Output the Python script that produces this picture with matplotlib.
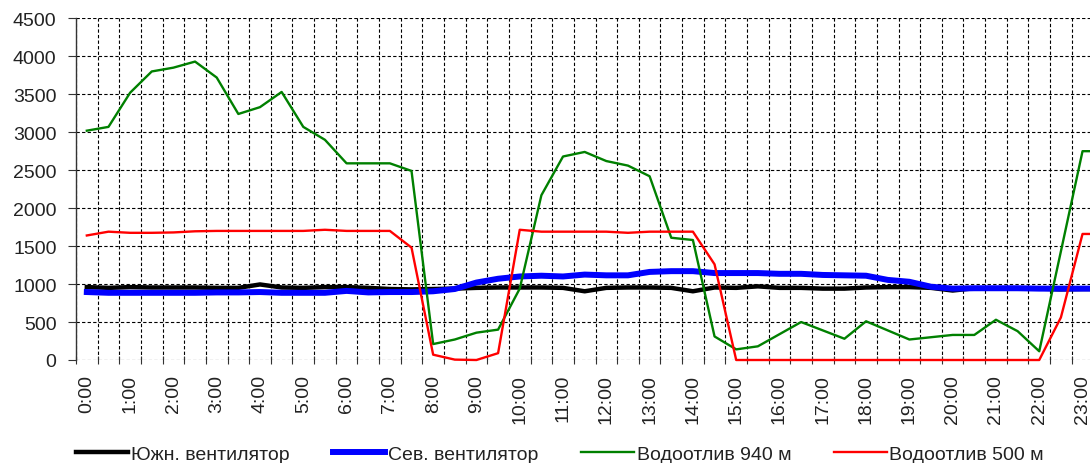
import matplotlib
matplotlib.use("Agg")
from matplotlib import pyplot as plt
from matplotlib.ticker import FixedLocator, MultipleLocator

# half-hour categories, labels shown only on full hours
times = [f"{h}:{m:02d}" for h in range(24) for m in (0, 30)]

south_fan = [960, 950, 960, 955, 955, 955, 950, 950, 995, 955, 950, 960,
             960, 950, 935, 930, 935, 940, 950, 955, 955, 955, 950, 905,
             950, 955, 955, 950, 905, 955, 950, 970, 950, 950, 940, 940,
             955, 960, 960, 950, 915, 945, 945, 945, 940, 930, 935, 935]

north_fan = [895, 885, 885, 885, 885, 885, 890, 890, 895, 885, 885, 885,
             910, 890, 895, 895, 905, 935, 1020, 1070, 1100, 1110, 1100, 1125,
             1115, 1115, 1160, 1170, 1170, 1145, 1145, 1145, 1135, 1135, 1120, 1115,
             1110, 1055, 1030, 965, 940, 945, 945, 945, 940, 940, 940, 940]

pump_940 = [3020, 3070, 3520, 3800, 3850, 3930, 3720, 3240, 3330, 3530, 3070, 2900,
            2590, 2590, 2590, 2490, 210, 270, 360, 400, 940, 2170, 2680, 2740,
            2620, 2560, 2420, 1610, 1580, 310, 140, 180, 340, 500, 390, 280,
            510, 390, 270, 300, 330, 330, 530, 380, 115, 1430, 2750, 2750]

pump_500 = [1640, 1690, 1675, 1675, 1680, 1695, 1700, 1700, 1700, 1700, 1700, 1715,
            1700, 1700, 1700, 1480, 70, 5, 0, 90, 1715, 1690, 1690, 1690,
            1690, 1675, 1690, 1690, 1690, 1260, 0, 0, 0, 0, 0, 0,
            0, 0, 0, 0, 0, 0, 0, 0, 0, 560, 1660, 1660]

series_names = ["Южн. вентилятор", "Сев. вентилятор", "Водоотлив 940 м", "Водоотлив 500 м"]

plt.rcParams['font.family'] = ['Liberation Sans', 'DejaVu Sans']

fig = plt.figure(figsize=(10.9, 4.64), dpi=100)
# plot area runs past the right edge, the original picture is cropped there
ax = fig.add_axes([76 / 1090, 103 / 464, 1039 / 1090, 341.7 / 464])

x = list(range(len(times)))
ax.plot(x, south_fan, color='black', lw=3.2, label=series_names[0], zorder=3)
ax.plot(x, north_fan, color='#0000ff', lw=4.3, label=series_names[1], zorder=4)
ax.plot(x, pump_940, color='#008000', lw=1.7, label=series_names[2], zorder=5, clip_on=False)
ax.plot(x, pump_500, color='#ff0000', lw=1.7, label=series_names[3], zorder=6, clip_on=False)

ax.set_xlim(-0.5, len(times) - 0.5)
ax.set_ylim(0, 4500)
ax.yaxis.set_major_locator(MultipleLocator(500))

# labels on the full hours, gridlines between categories
ax.xaxis.set_major_locator(FixedLocator(x[::2]))
ax.set_xticklabels(times[::2], rotation=90, va='top', ha='center')
ax.xaxis.set_minor_locator(FixedLocator([i + 0.5 for i in range(-1, len(times))]))

ax.tick_params(axis='x', which='major', length=0, pad=10, labelsize=14, labelcolor='#222222')
ax.tick_params(axis='x', which='minor', direction='inout', length=6, width=0.8, color='#333333')
ax.tick_params(axis='y', which='major', direction='out', length=6, width=0.8, color='#333333',
               labelsize=14, labelcolor='#222222', pad=8)

ax.grid(True, axis='y', which='major', color='black', linestyle=(0, (3, 2)), lw=0.8)
ax.grid(True, axis='x', which='minor', color='black', linestyle=(0, (3, 2)), lw=0.8)
ax.set_axisbelow(True)

for side in ('top', 'right', 'bottom'):
    ax.spines[side].set_visible(False)
ax.spines['left'].set_color('#333333')
ax.spines['left'].set_linewidth(1.0)

fig.legend(loc='center', bbox_to_anchor=(560 / 1090, 9 / 464), ncol=4, frameon=False,
           fontsize=14, handlelength=2.7, handletextpad=0.15, columnspacing=2.2,
           labelcolor='#222222')

plt.savefig("out.png", dpi=100)
